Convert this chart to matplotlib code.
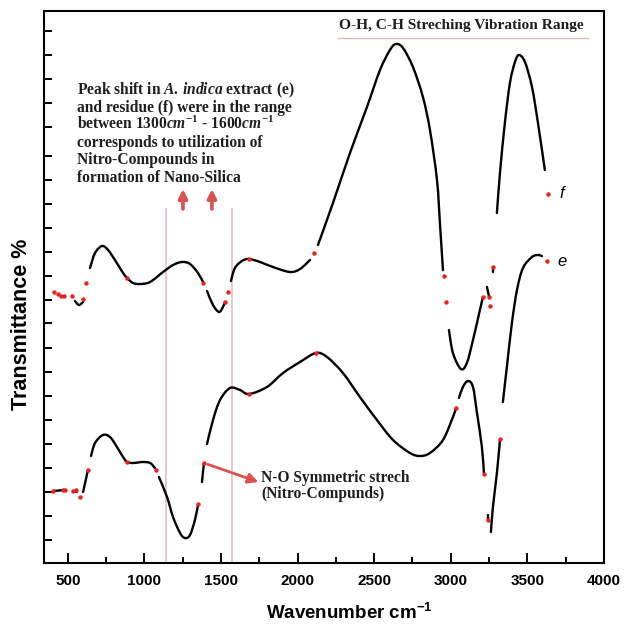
import matplotlib
matplotlib.use('Agg')
import matplotlib.pyplot as plt
from matplotlib.lines import Line2D
from matplotlib.path import Path
from matplotlib.patches import PathPatch

plt.rcParams['mathtext.fontset'] = 'custom'
plt.rcParams['mathtext.it'] = 'Liberation Serif:italic:bold'
plt.rcParams['mathtext.rm'] = 'Liberation Serif:bold'
plt.rcParams['mathtext.bf'] = 'Liberation Serif:bold'
plt.rcParams['mathtext.default'] = 'regular'

# ---------------- data (wavenumber, transmittance in arbitrary units) ----------------
# upper spectrum (f) pieces
f1_x = [547, 573, 600]
f1_y = [262, 258, 261]
f2_x = [645, 678, 724, 763, 808, 861, 887, 926, 972, 1037, 1122, 1187, 1246, 1298, 1350, 1383]
f2_y = [295, 310, 317, 313, 303, 290, 285, 280, 279, 281, 291, 298, 301, 299, 290, 281]
f3_x = [1409, 1448, 1487, 1513, 1526]
f3_y = [272, 258, 251, 256, 261]
f4_x = [1565, 1591, 1637, 1683, 1755, 1839, 1950, 2016, 2081]
f4_y = [282, 295, 302, 304, 301, 296, 291, 294, 303]
f5_x = [2133, 2231, 2342, 2453, 2538, 2603, 2642, 2688, 2753, 2818, 2864, 2910, 2929, 2949]
f5_y = [318, 360, 410, 456, 493, 513, 519, 515, 496, 466, 433, 383, 340, 293]
f6_x = [2988, 3014, 3066, 3105, 3145, 3190, 3210]
f6_y = [233, 210, 194, 200, 223, 253, 266]
f7_x = [3236, 3249]
f7_y = [276, 267]
f8_x = [3275, 3275]
f8_y = [295, 291]
f9_x = [3301, 3321, 3353, 3386, 3419, 3445, 3484, 3530, 3569, 3614]
f9_y = [350, 390, 440, 480, 501, 508, 501, 476, 440, 393]

# lower spectrum (e) pieces
e1_x = [404, 482]
e1_y = [72, 73]
e2_x = [534, 560]
e2_y = [72, 71]
e3_x = [600, 632]
e3_y = [71, 93]
e4_x = [652, 678, 730, 776, 821, 861, 887, 926, 991, 1037, 1069]
e4_y = [107, 120, 128, 126, 116, 106, 101, 100, 101, 100, 95]
e5_x = [1095, 1148, 1187, 1233, 1265, 1298, 1330, 1350]
e5_y = [86, 66, 46, 30, 25, 28, 43, 58]
e6_x = [1376, 1389]
e6_y = [81, 100]
e7_x = [1409, 1448, 1494, 1559, 1624, 1683, 1800, 1905, 2016, 2120, 2192, 2296, 2407,
        2518, 2623, 2734, 2799, 2864, 2949, 3014, 3034]
e7_y = [119, 143, 163, 175, 173, 169, 176, 190, 201, 210, 206, 190, 166,
        143, 123, 110, 107, 110, 123, 146, 155]
e8_x = [3053, 3079, 3112, 3145, 3171, 3203, 3216]
e8_y = [165, 176, 182, 176, 150, 116, 90]
e9_x = [3243, 3243]
e9_y = [48, 44]
e10_x = [3262, 3275, 3301, 3321]
e10_y = [31, 56, 90, 123]
e11_x = [3340, 3366, 3399, 3432, 3471, 3530, 3569, 3595]
e11_y = [161, 196, 240, 273, 295, 306, 308, 307]

# red marker points
dots_f_x = [410, 436, 456, 476, 528, 600, 619, 887, 1383, 1526, 1546, 1683, 2107,
            2955, 2968, 3210, 3249, 3256, 3275, 3634, 3627]
dots_f_y = [271, 269, 267, 267, 267, 264, 280, 285, 280, 261, 271, 304, 310,
            287, 261, 266, 266, 257, 296, 369, 302]
dots_e_x = [404, 469, 482, 534, 554, 580, 632, 887, 1076, 1350, 1389, 1683, 2120,
            3034, 3216, 3243, 3321]
dots_e_y = [72, 73, 73, 72, 73, 66, 93, 101, 93, 59, 100, 169, 210,
            155, 89, 43, 124]

segments = [(f1_x, f1_y), (f2_x, f2_y), (f3_x, f3_y), (f4_x, f4_y), (f5_x, f5_y),
            (f6_x, f6_y), (f7_x, f7_y), (f8_x, f8_y), (f9_x, f9_y),
            (e1_x, e1_y), (e2_x, e2_y), (e3_x, e3_y), (e4_x, e4_y), (e5_x, e5_y),
            (e6_x, e6_y), (e7_x, e7_y), (e8_x, e8_y), (e9_x, e9_y), (e10_x, e10_y),
            (e11_x, e11_y)]

x_major = [500, 1000, 1500, 2000, 2500, 3000, 3500, 4000]
x_minor = [750, 1250, 1750, 2250, 2750, 3250, 3750]
y_ticks = [23, 47, 71, 95, 119, 143, 167, 191, 215, 240, 263, 287, 311, 335, 359,
           383, 407, 436, 460, 484, 508, 532]


def smooth_path(xs, ys):
    """Bezier path passing through the given points (Catmull-Rom tangents)."""
    pts = list(zip(xs, ys))
    if len(pts) < 3:
        return Path(pts, [Path.MOVETO] + [Path.LINETO] * (len(pts) - 1))
    verts = [pts[0]]
    codes = [Path.MOVETO]
    n = len(pts)
    for i in range(n - 1):
        p0 = pts[i - 1] if i > 0 else pts[i]
        p1 = pts[i]
        p2 = pts[i + 1]
        p3 = pts[i + 2] if i + 2 < n else pts[i + 1]
        c1 = (p1[0] + (p2[0] - p0[0]) / 6.0, p1[1] + (p2[1] - p0[1]) / 6.0)
        c2 = (p2[0] - (p3[0] - p1[0]) / 6.0, p2[1] - (p3[1] - p1[1]) / 6.0)
        verts += [c1, c2, p2]
        codes += [Path.CURVE4] * 3
    return Path(verts, codes)


# ---------------- figure ----------------
W, H = 624, 625
fig = plt.figure(figsize=(W / 100, H / 100), dpi=100)
ax = fig.add_axes([44 / W, 1 - 563 / H, 560 / W, 552 / H])

for sx, sy in segments:
    ax.add_patch(PathPatch(smooth_path(sx, sy), facecolor='none', edgecolor='black',
                           lw=1.7, capstyle='round', joinstyle='round', zorder=3))
ax.plot(dots_f_x, dots_f_y, 'o', color='#e8231f', ms=3.2, mec='none', zorder=4)
ax.plot(dots_e_x, dots_e_y, 'o', color='#e8231f', ms=3.2, mec='none', zorder=4)

ax.set_xlim(345, 4000)
ax.set_ylim(0, 552)
ax.set_xticks(x_major)
ax.set_xticks(x_minor, minor=True)
ax.set_yticks(y_ticks)
ax.set_yticklabels([])
ax.tick_params(axis='x', which='major', direction='in', length=7, width=1.4, pad=8,
               labelsize=11)
ax.tick_params(axis='x', which='minor', direction='in', length=4.5, width=1.4)
ax.tick_params(axis='y', direction='in', length=6, width=1.4)
for lab in ax.get_xticklabels():
    lab.set_fontfamily('Liberation Sans')
    lab.set_fontweight('bold')
for s in ax.spines.values():
    s.set_linewidth(1.5)

# range guide lines and arrows
red = '#d9534f'
ax.vlines([1141, 1572], 0, 355, color='#e9c2c2', lw=1.3, zorder=1)
for xa in [1252, 1441]:
    ax.annotate('', xy=(xa, 374), xytext=(xa, 354),
                arrowprops=dict(arrowstyle='-|>', color=red, lw=2.6,
                                mutation_scale=13, shrinkA=0, shrinkB=0))
ax.annotate('', xy=(1745, 81), xytext=(1389, 100),
            arrowprops=dict(arrowstyle='-|>', color=red, lw=2.0,
                            mutation_scale=15, shrinkA=3, shrinkB=0))

# labels
serif = 'Liberation Serif'
txtc = '#1e1e1e'
ax.text(3712, 369, 'f', fontsize=12, style='italic', family='Liberation Sans',
        va='center', ha='left')
ax.text(3699, 302, 'e', fontsize=12, style='italic', family='Liberation Sans',
        va='center', ha='left')
ax.text(1761, 85, 'N-O Symmetric strech', fontsize=11.2, family=serif,
        weight='bold', va='center', ha='left', color=txtc)
ax.text(1761, 69, '(Nitro-Compunds)', fontsize=11.2, family=serif,
        weight='bold', va='center', ha='left', color=txtc)

lines = ['Peak shift in $\\mathit{A.\\,indica}$ extract (e)',
         'and residue (f) were in the range',
         'between 1300$\\mathit{cm}^{\\mathit{-1}}$ - 1600$\\mathit{cm}^{\\mathit{-1}}$',
         'corresponds to utilization of',
         'Nitro-Compounds in',
         'formation of Nano-Silica']
for i, ln in enumerate(lines):
    fig.text(77 / W, 1 - (94 + i * 17.6) / H, ln, fontsize=11.2, family=serif,
             weight='bold', ha='left', va='baseline', color=txtc)

fig.text(461 / W, 1 - 26 / H, 'O-H, C-H Streching Vibration Range', fontsize=11.1,
         family=serif, weight='bold', ha='center', va='center', color=txtc)
fig.add_artist(Line2D([338 / W, 588 / W], [1 - 38 / H, 1 - 38 / H], color='#e3b5b5',
                      lw=1.0))

fig.text(349 / W, 1 - 619 / H, 'Wavenumber cm$^{-1}$', fontsize=13.5,
         family='Liberation Sans', weight='bold', ha='center', va='baseline')
fig.text(22 / W, 1 - 324 / H, 'Transmittance %', fontsize=15.5,
         family='Liberation Sans', weight='bold', ha='center', va='center',
         rotation=90)

fig.savefig('out.png', dpi=100)
